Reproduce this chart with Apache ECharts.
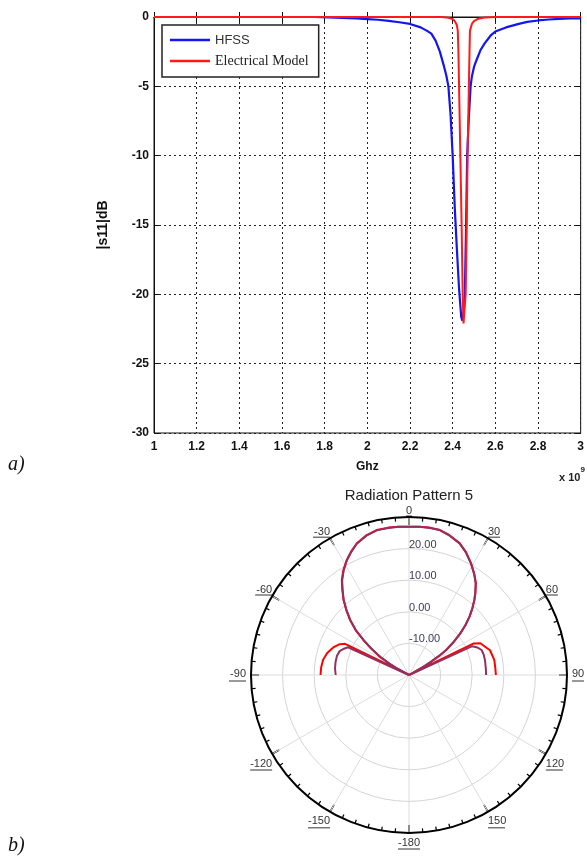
<!DOCTYPE html>
<html>
<head>
<meta charset="utf-8">
<script src="https://cdn.jsdelivr.net/npm/echarts@6/dist/echarts.min.js"></script>
<style>
html,body{margin:0;padding:0;background:#fff;}
#c{width:587px;height:858px;}
</style>
</head>
<body>
<div id="c"></div>
<script>
// ---- (a) S11 vs frequency (x 10^9 Hz) ----
const xTicks = [1, 1.2, 1.4, 1.6, 1.8, 2, 2.2, 2.4, 2.6, 2.8, 3];
const yTicks = [0, -5, -10, -15, -20, -25, -30];

const hfssFreq = [1.0, 1.2, 1.4, 1.6, 1.75, 1.85, 1.95, 2.0, 2.05, 2.1, 2.15, 2.2, 2.25, 2.28, 2.3, 2.32, 2.34, 2.36, 2.37, 2.38, 2.39, 2.40, 2.41, 2.42, 2.43, 2.44, 2.445, 2.452, 2.457, 2.46, 2.463, 2.468, 2.475, 2.484, 2.49, 2.50, 2.512, 2.53, 2.55, 2.58, 2.6, 2.65, 2.71, 2.75, 2.8, 2.85, 2.9, 2.95, 3.0];
const hfssDb   = [0, 0, 0, 0, 0, -0.05, -0.1, -0.15, -0.2, -0.28, -0.38, -0.5, -0.75, -1.0, -1.2, -1.7, -2.5, -3.6, -4.2, -5, -7, -10, -13.8, -16.8, -19.6, -21.6, -21.9, -21.2, -20, -17.5, -15, -10, -7.5, -5, -4.3, -3.6, -3.1, -2.4, -1.9, -1.3, -1.05, -0.75, -0.5, -0.35, -0.25, -0.18, -0.13, -0.1, -0.1];

const modelFreq = [1.0, 2.35, 2.38, 2.40, 2.41, 2.42, 2.424, 2.427, 2.430, 2.436, 2.442, 2.447, 2.451, 2.456, 2.461, 2.466, 2.470, 2.476, 2.479, 2.481, 2.49, 2.50, 2.52, 2.55, 2.6, 3.0];
const modelDb   = [0, 0, -0.05, -0.15, -0.3, -0.6, -1.0, -2.5, -5, -10, -15, -20, -22.1, -21, -20, -15, -10, -5, -2.5, -1.0, -0.5, -0.3, -0.12, -0.03, 0, 0];

// ---- (b) Radiation pattern (angle deg, gain dB) ----
const radTicks = [-20, -10, 0, 10, 20, 30];
const redAngle = [-90, -85, -80, -75, -70, -66, -64, -63, -61.4, -60, -57.8, -55, -52.5, -50, -47, -44, -41, -38, -35.3, -32, -28.4, -25, -21.7, -17, -12.6, -8, -4, 0, 4, 8, 12, 16, 21, 25, 29, 33, 36, 39, 41, 43.5, 46, 48.5, 51, 53.5, 56, 57.5, 59, 60.5, 62, 64, 66, 73, 80, 85, 90];
const redDb    = [8.0, 7.9, 7.6, 6.8, 5.5, 4.0, 2.5, -20, -15.6, -13, -9.1, -5.3, -1.8, 2.0, 5.5, 8.6, 11.6, 14.3, 16.8, 19.2, 21.4, 23.2, 24.8, 26.2, 27.0, 27.1, 27.0, 26.9, 27.0, 27.1, 26.9, 26.1, 24.7, 22.8, 20.5, 18.0, 16.0, 13.4, 11.6, 9.2, 6.7, 3.9, 0.9, -2.3, -5.7, -8.5, -12, -15, -20, 2.8, 4.7, 6.8, 7.4, 7.4, 7.5];
const purpleAngle = [-90, -85, -80, -75, -71, -68, -65.5, -64, -61.4, -60, -57.8, -55, -52.5, -50, -47, -44, -41, -38, -35.3, -32, -28.4, -25, -21.7, -17, -12.6, -8, -4, 0, 4, 8, 12, 16, 21, 25, 29, 33, 36, 39, 41, 43.5, 46, 48.5, 51, 53.5, 56, 57.5, 59, 60.5, 62, 64, 65.5, 68, 71, 75, 79, 85, 90];
const purpleDb    = [3.2, 3.5, 3.6, 3.6, 3.2, 2.2, 1.2, -20, -15.7, -13.2, -9.3, -5.5, -2.0, 1.8, 5.3, 8.4, 11.5, 14.1, 16.6, 19.0, 21.3, 23.1, 24.7, 26.1, 26.9, 27.0, 27.0, 26.9, 27.0, 27.0, 26.9, 26.0, 24.6, 22.7, 20.4, 17.9, 15.9, 13.3, 11.5, 9.1, 6.6, 3.8, 0.8, -2.4, -5.8, -8.6, -12.1, -15.1, -20, -20, 2.0, 3.3, 4.3, 4.5, 4.5, 4.4, 4.4];

const zip = (xs, ys) => xs.map((x, i) => [x, ys[i]]);
const toPolar = (angs, vals) => angs.map((a, i) => [vals[i], a < 0 ? a + 360 : a]);

const F = 'Liberation Sans, Arial, sans-serif';
const TNR = 'Liberation Serif, Times New Roman, serif';

const chart = echarts.init(document.getElementById('c'), null, {renderer: 'canvas'});

const ulW = {1: 6, 2: 12, 3: 17, 4: 22};
const angleLabel = v => {
  if (v === 360) return '';
  let a = v > 180 ? v - 360 : v;
  if (v === 180) a = -180;
  const s = String(a);
  const u = '{u' + s.length + '|\u00a0}';
  if (Math.abs(a) < 90) return '{tt|' + s + '}\n' + u;
  if (Math.abs(a) > 90) return '{sp|\u00a0}\n{tb|' + s + '}\n' + u;
  if (a < 0) return '{tm|' + s + '}{g|\u00a0}\n' + u + '{g|\u00a0}';
  return '{g|\u00a0}{tm|' + s + '}\n{g|\u00a0}' + u;
};
const uStyle = n => ({width: ulW[n], height: 1, lineHeight: 2, fontSize: 1, backgroundColor: '#333'});
const tStyle = lh => ({fontFamily: F, fontSize: 11, color: '#333', lineHeight: lh});

chart.setOption({
  animation: false,
  title: {
    text: 'Radiation Pattern 5', left: 404, top: 483, textAlign: 'center',
    textStyle: {fontFamily: F, fontSize: 15, fontWeight: 'normal', color: '#222'}
  },
  legend: {
    orient: 'vertical', left: 162, top: 25,
    padding: [8, 10, 9, 8], itemGap: 7, itemWidth: 40, itemHeight: 2.5, icon: 'rect',
    backgroundColor: '#fff', borderColor: '#222', borderWidth: 1.5, borderRadius: 0,
    data: [
      {name: 'HFSS', textStyle: {fontFamily: F, fontSize: 13, color: '#333', lineHeight: 14}},
      {name: 'Electrical Model', textStyle: {fontFamily: TNR, fontSize: 14, color: '#222', lineHeight: 14}}
    ]
  },
  grid: {left: 154, top: 17, width: 429, height: 416, show: true, borderColor: '#111', borderWidth: 1, backgroundColor: 'transparent'},
  xAxis: [{
    type: 'value', min: 1, max: 3, interval: 0.2, gridIndex: 0,
    name: 'Ghz', nameLocation: 'middle', nameGap: 28,
    nameTextStyle: {fontFamily: F, fontSize: 12, fontWeight: 'bold', color: '#111'},
    axisLine: {show: true, lineStyle: {color: '#111', width: 1}},
    axisTick: {show: true, inside: true, length: 5, lineStyle: {color: '#111'}},
    axisLabel: {fontFamily: F, fontSize: 12, fontWeight: 'bold', color: '#111', margin: 8,
      formatter: v => String(Math.round(v * 10) / 10)},
    splitLine: {show: true, lineStyle: {color: '#222', type: [2, 3], width: 1}}
  }, {
    type: 'value', min: 1, max: 3, interval: 0.2, gridIndex: 0, position: 'top',
    axisLine: {show: false}, axisLabel: {show: false}, splitLine: {show: false},
    axisTick: {show: true, inside: true, length: 5, lineStyle: {color: '#111'}}
  }],
  yAxis: [{
    type: 'value', min: -30, max: 0, interval: 5, gridIndex: 0,
    name: '|s11|dB', nameLocation: 'middle', nameGap: 44, nameRotate: 90,
    nameTextStyle: {fontFamily: F, fontSize: 14, fontWeight: 'bold', color: '#111'},
    axisLine: {show: true, lineStyle: {color: '#111', width: 1}},
    axisTick: {show: true, inside: true, length: 5, lineStyle: {color: '#111'}},
    axisLabel: {fontFamily: F, fontSize: 12, fontWeight: 'bold', color: '#111', margin: 5},
    splitLine: {show: true, lineStyle: {color: '#222', type: [2, 3], width: 1}}
  }, {
    type: 'value', min: -30, max: 0, interval: 5, gridIndex: 0, position: 'right',
    axisLine: {show: false}, axisLabel: {show: false}, splitLine: {show: false},
    axisTick: {show: true, inside: true, length: 5, lineStyle: {color: '#111'}}
  }],
  polar: {center: [409, 675], radius: 158},
  angleAxis: {
    type: 'value', min: 0, max: 360, interval: 30, startAngle: 90, clockwise: true,
    axisLine: {show: true, lineStyle: {color: '#000', width: 2}},
    axisTick: {show: true, inside: true, length: 8, lineStyle: {color: '#000', width: 1.5}},
    minorTick: {show: true, splitNumber: 6, length: 4, lineStyle: {color: '#000', width: 1.2}},
    axisLabel: {
      margin: 0, color: '#333', fontFamily: F, fontSize: 11,
      formatter: angleLabel,
      rich: {tt: tStyle(8), tb: tStyle(11), tm: tStyle(12), sp: {fontSize: 1, lineHeight: 4},
        g: {width: 5, fontSize: 1},
        u1: uStyle(1), u2: uStyle(2), u3: uStyle(3), u4: uStyle(4)}
    },
    splitLine: {show: true, lineStyle: {color: '#dcdcdc', width: 1}}
  },
  radiusAxis: {
    type: 'value', min: -20, max: 30, interval: 10,
    axisLine: {show: false}, axisTick: {show: false},
    axisLabel: {
      margin: 0, align: 'left', verticalAlign: 'bottom', color: '#3b3b5b', fontFamily: F, fontSize: 11, lineHeight: 8,
      formatter: v => (v === -20 || v === 30) ? '' : v.toFixed(2)
    },
    splitLine: {show: true, lineStyle: {color: '#d4d4d4', width: 1}}
  },
  graphic: [
    {type: 'text', left: 8, top: 455, style: {text: 'a)', font: 'italic 20px ' + TNR, fill: '#111'}},
    {type: 'text', left: 8, top: 836, style: {text: 'b)', font: 'italic 20px ' + TNR, fill: '#111'}},
    {type: 'text', left: 559, top: 466, style: {text: '{a|x 10}{b|9}', font: 'bold 11px ' + F, fill: '#222',
      rich: {a: {fontSize: 11, fontWeight: 'bold', fontFamily: F, padding: [6, 0, 0, 0]}, b: {fontSize: 8, fontWeight: 'bold', fontFamily: F, verticalAlign: 'top'}}}}
  ],
  series: [
    {name: 'HFSS', type: 'line', xAxisIndex: 0, yAxisIndex: 0, data: zip(hfssFreq, hfssDb),
      showSymbol: false, symbol: 'none', lineStyle: {color: '#1515f0', width: 2.2}, itemStyle: {color: '#1515f0'}, z: 3},
    {name: 'Electrical Model', type: 'line', xAxisIndex: 0, yAxisIndex: 0, data: zip(modelFreq, modelDb),
      showSymbol: false, symbol: 'none', lineStyle: {color: '#ff1a1a', width: 2}, itemStyle: {color: '#ff1a1a'}, z: 4},
    {name: 'Pattern A', type: 'line', coordinateSystem: 'polar', data: toPolar(redAngle, redDb),
      showSymbol: false, symbol: 'none', lineStyle: {color: '#ff0000', width: 2}, z: 3},
    {name: 'Pattern B', type: 'line', coordinateSystem: 'polar', data: toPolar(purpleAngle, purpleDb),
      showSymbol: false, symbol: 'none', lineStyle: {color: '#94305f', width: 2}, z: 4}
  ]
});
</script>
</body>
</html>
